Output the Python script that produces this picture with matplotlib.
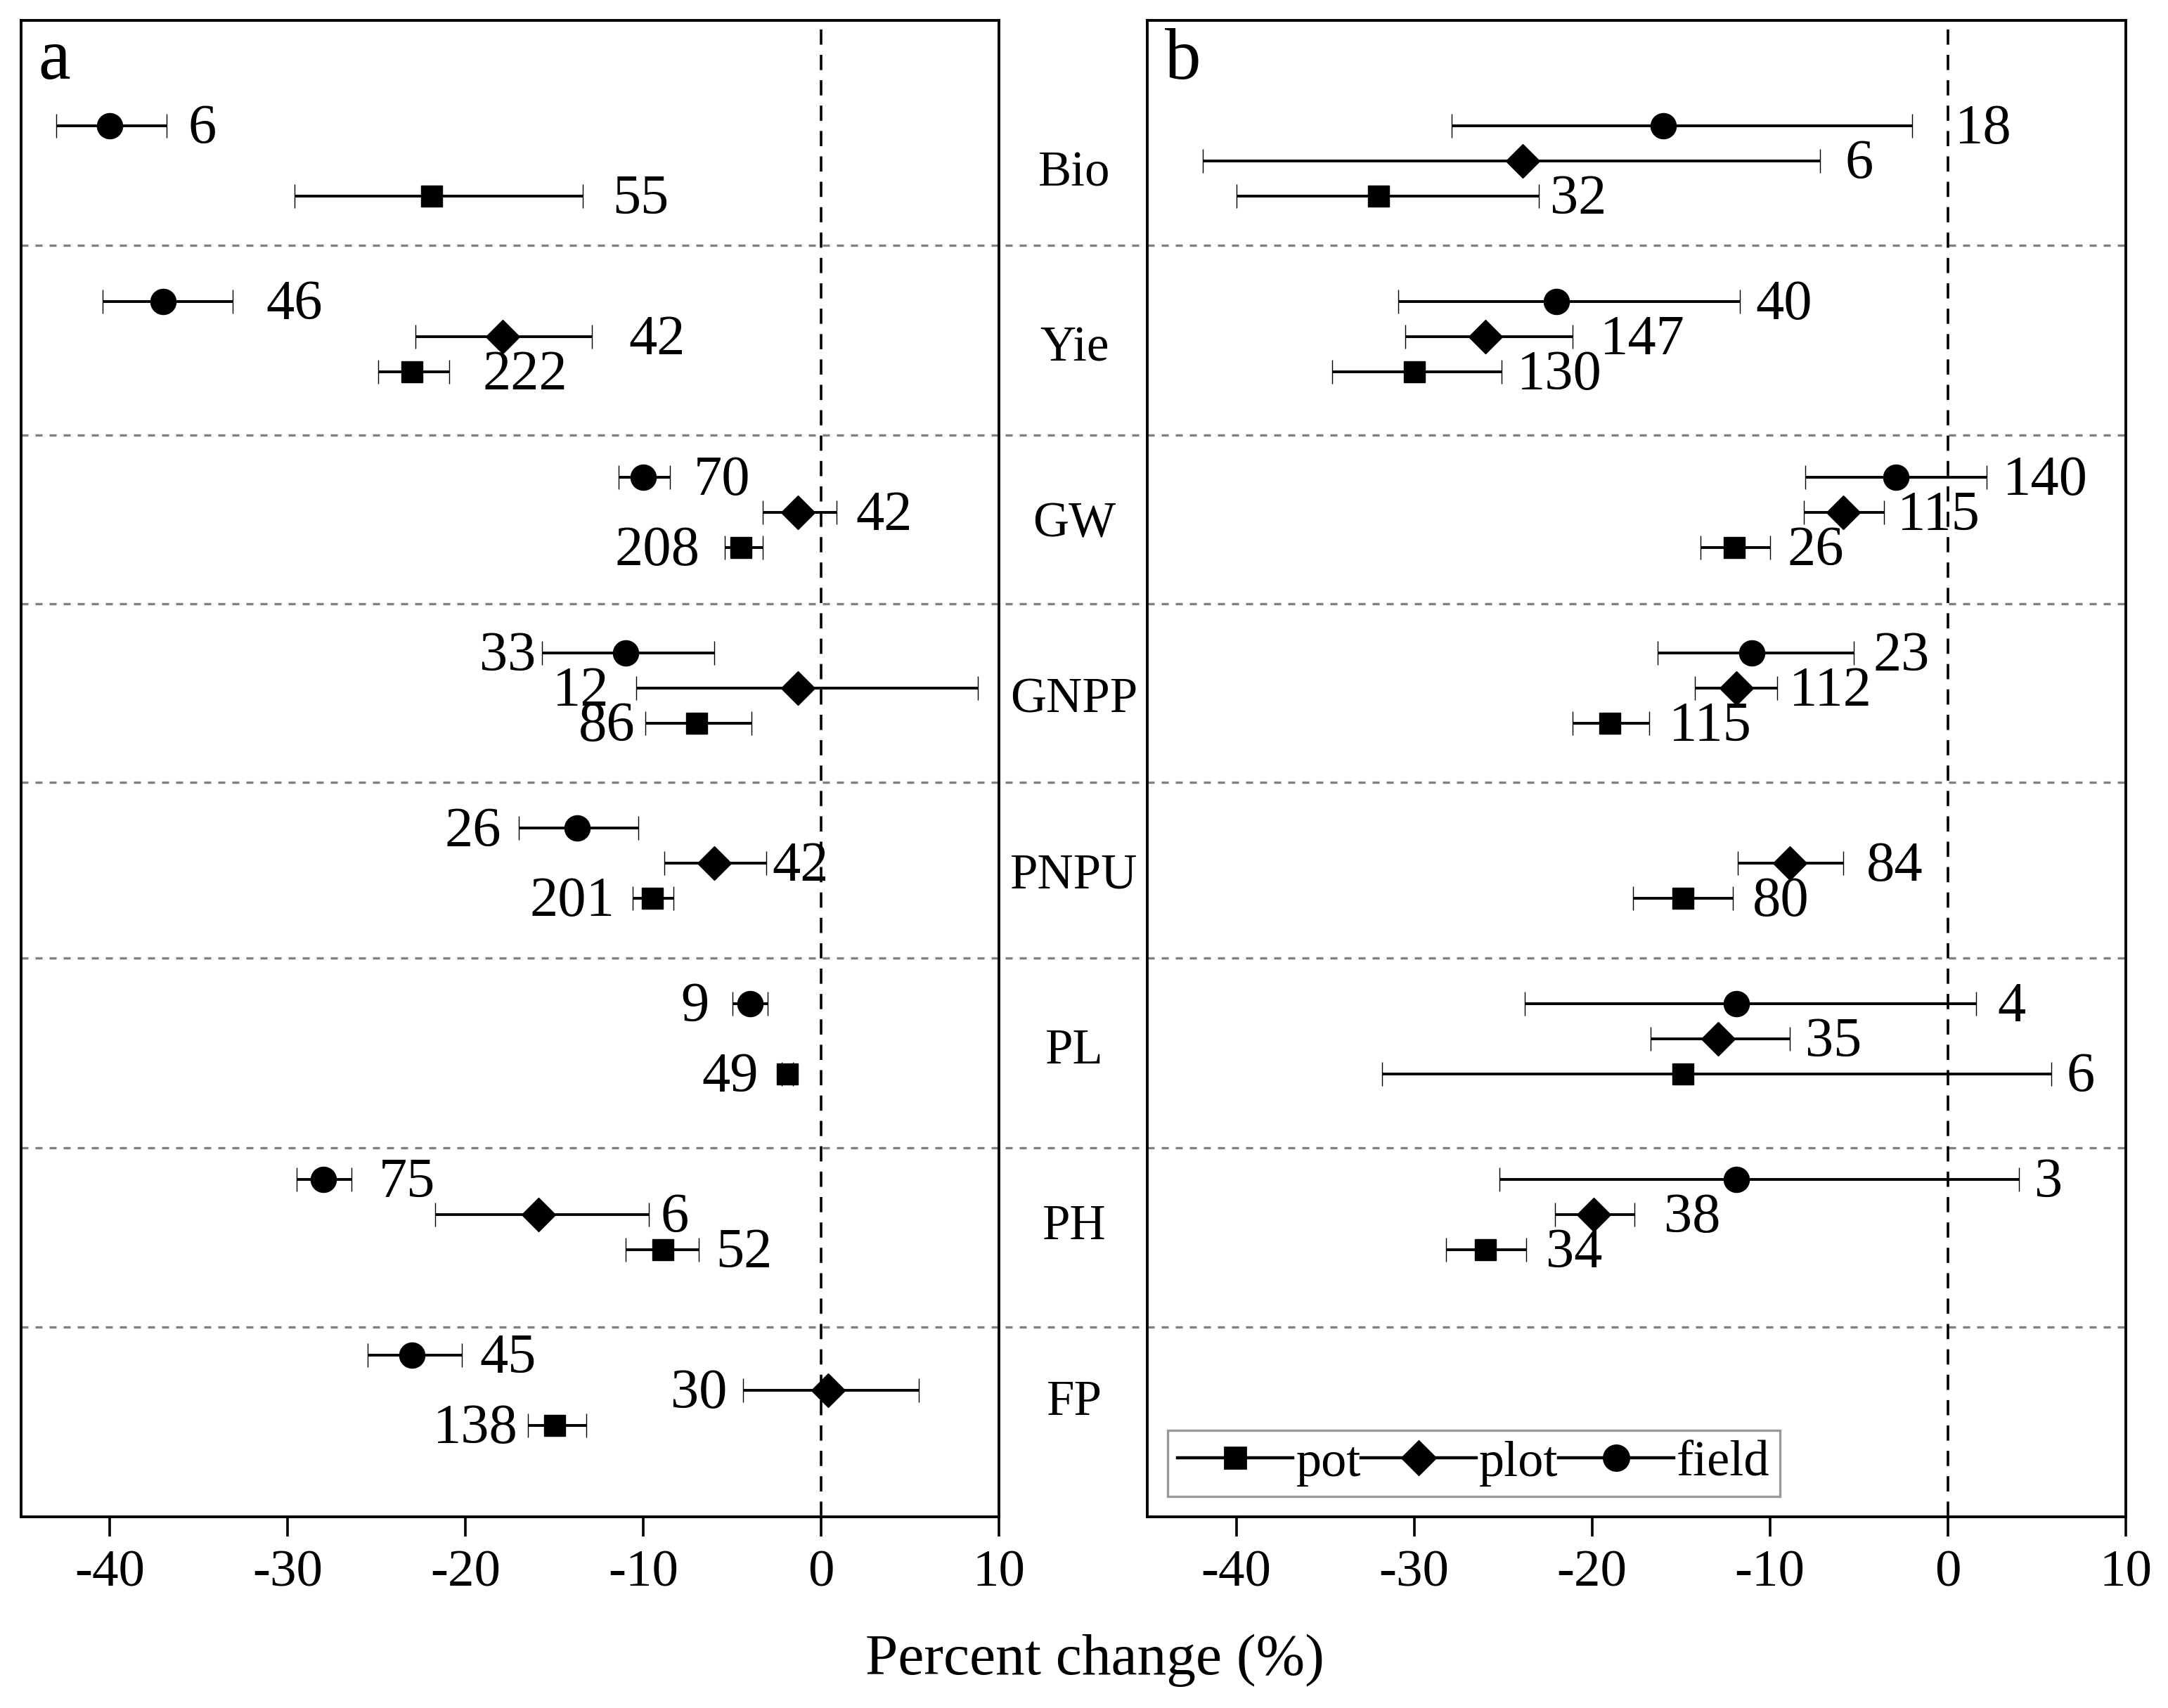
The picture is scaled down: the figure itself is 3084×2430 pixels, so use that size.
import numpy as np
import matplotlib
matplotlib.use("Agg")
import matplotlib.pyplot as plt
from matplotlib.lines import Line2D
from matplotlib.transforms import blended_transform_factory

plt.rcParams['font.family'] = ['Liberation Serif', 'DejaVu Serif']
plt.rcParams['axes.unicode_minus'] = False

# categories (top to bottom)
cats = ["Bio", "Yie", "GW", "GNPP", "PNPU", "PL", "PH", "FP"]
nan = np.nan

# panel a : mean, CI low, CI high, number of observations
a_field_mean = [-40.0, -37.0, -10.0, -11.0, -13.7, -4.0, -28.0, -23.0]
a_field_lo = [-43.0, -40.4, -11.4, -15.7, -17.0, -5.0, -29.5, -25.5]
a_field_hi = [-36.8, -33.1, -8.5, -6.0, -10.3, -3.0, -26.4, -20.2]
a_field_n = [6, 46, 70, 33, 26, 9, 75, 45]

a_plot_mean = [nan, -17.9, -1.3, -1.3, -6.0, nan, -15.9, 0.4]
a_plot_lo = [nan, -22.8, -3.3, -10.4, -8.8, nan, -21.7, -4.4]
a_plot_hi = [nan, -12.9, 0.85, 8.8, -3.1, nan, -9.7, 5.5]
a_plot_n = [0, 42, 42, 12, 42, 0, 6, 30]

a_pot_mean = [-21.9, -23.0, -4.5, -7.0, -9.5, -1.9, -8.9, -15.0]
a_pot_lo = [-29.6, -24.9, -5.4, -9.9, -10.6, -2.2, -11.0, -16.5]
a_pot_hi = [-13.4, -20.9, -3.3, -3.9, -8.3, -1.6, -6.9, -13.2]
a_pot_n = [55, 222, 208, 86, 201, 49, 52, 138]

# panel b
b_field_mean = [-16.0, -22.0, -2.9, -11.0, nan, -11.9, -11.9, nan]
b_field_lo = [-27.9, -30.9, -8.0, -16.3, nan, -23.8, -25.2, nan]
b_field_hi = [-2.0, -11.7, 2.2, -5.3, nan, 1.6, 4.0, nan]
b_field_n = [18, 40, 140, 23, 0, 4, 3, 0]

b_plot_mean = [-23.9, -26.0, -5.9, -11.9, -8.9, -12.9, -19.9, nan]
b_plot_lo = [-41.9, -30.5, -8.1, -14.2, -11.8, -16.7, -22.1, nan]
b_plot_hi = [-7.2, -21.1, -3.6, -9.6, -5.9, -8.9, -17.6, nan]
b_plot_n = [6, 147, 115, 112, 84, 35, 38, 0]

b_pot_mean = [-32.0, -30.0, -12.0, -19.0, -14.9, -14.9, -26.0, nan]
b_pot_lo = [-40.0, -34.6, -13.9, -21.1, -17.7, -31.8, -28.2, nan]
b_pot_hi = [-23.0, -25.1, -10.0, -16.8, -12.1, 5.8, -23.7, nan]
b_pot_n = [32, 130, 26, 115, 80, 6, 34, 0]

# label placement (layout): side of the bar and gap in points
a_sides = {"field": "rrrlllrr", "plot": "rrrlrrrl", "pot": "rrllllrl"}
a_gaps = {"field": [11, 17, 12, 3, 9, 12, 14, 9],
          "plot": [0, 19, 10, 14, 3, 0, 6, 8],
          "pot": [15, 17, 13, 5, 9, 12, 9, 5]}
b_sides = {"field": "rrrrrrrr", "plot": "rrrrrrrr", "pot": "rrrrrrrr"}
b_gaps = {"field": [22, 8, 8, 10, 0, 11, 8, 0],
          "plot": [13, 14, 7, 6, 12, 8, 15, 0],
          "pot": [6, 8, 9, 10, 10, 8, 10, 0]}

offs = {"field": -1, "plot": 0, "pot": 1}
mk = {"field": ("o", 13), "plot": ("D", 12), "pot": ("s", 11)}
centers = np.arange(len(cats)) * 5.0
seps = [2.4, 7.8, 12.6, 17.7, 22.7, 28.1, 33.2]

fig = plt.figure(figsize=(15.42, 12.15), dpi=200)
axa = fig.add_axes([0.0096, 0.112, 0.4512, 0.876])
axb = fig.add_axes([0.5292, 0.112, 0.4513, 0.876])


def draw_panel(ax, series, sides, gaps, letter, extend_sep):
    for s in seps:
        ax.plot([-45, 18.3 if extend_sep else 10], [s, s], color='#808080',
                lw=1.2, dashes=(3, 3), clip_on=False, zorder=1)
    ax.axvline(0, color='k', lw=1.3, dashes=(6, 4), zorder=1)
    for name, (mean, lo, hi, n) in series.items():
        mean = np.array(mean); lo = np.array(lo); hi = np.array(hi)
        y = centers + offs[name]
        ok = ~np.isnan(mean)
        m, ms = mk[name]
        ax.errorbar(mean[ok], y[ok], xerr=[mean[ok] - lo[ok], hi[ok] - mean[ok]],
                    fmt=m, ms=ms, color='k', mfc='k', mec='k', mew=0.5,
                    elinewidth=1.4, capsize=6, capthick=1.4, zorder=3)
        for i in np.where(ok)[0]:
            g = gaps[name][i]
            if sides[name][i] == 'r':
                ax.annotate(str(n[i]), (hi[i], y[i]), xytext=(g, -2),
                            textcoords='offset points', ha='left', va='center',
                            fontsize=29)
            else:
                ax.annotate(str(n[i]), (lo[i], y[i]), xytext=(-g, -2),
                            textcoords='offset points', ha='right', va='center',
                            fontsize=29)
    ax.set_xlim(-45, 10)
    ax.set_ylim(38.6, -4.0)
    ax.set_xticks([-40, -30, -20, -10, 0, 10])
    ax.set_yticks([])
    ax.tick_params(axis='x', direction='out', length=10, width=1.3,
                   labelsize=27, pad=7)
    for sp in ax.spines.values():
        sp.set_linewidth(1.4)
    ax.text(0.018, 0.995, letter, transform=ax.transAxes, ha='left', va='top',
            fontsize=37)


draw_panel(axa, {"field": (a_field_mean, a_field_lo, a_field_hi, a_field_n),
                 "plot": (a_plot_mean, a_plot_lo, a_plot_hi, a_plot_n),
                 "pot": (a_pot_mean, a_pot_lo, a_pot_hi, a_pot_n)},
           a_sides, a_gaps, "a", True)
draw_panel(axb, {"field": (b_field_mean, b_field_lo, b_field_hi, b_field_n),
                 "plot": (b_plot_mean, b_plot_lo, b_plot_hi, b_plot_n),
                 "pot": (b_pot_mean, b_pot_lo, b_pot_hi, b_pot_n)},
           b_sides, b_gaps, "b", False)

# category names between the panels
tr = blended_transform_factory(fig.transFigure, axa.transData)
for c, yc in zip(cats, centers):
    axa.text(0.4955, yc + 0.35, c, transform=tr, ha='center', va='center',
             fontsize=25.5, clip_on=False)

handles = [Line2D([], [], color='k', lw=1.6, marker='s', ms=11),
           Line2D([], [], color='k', lw=1.6, marker='D', ms=12),
           Line2D([], [], color='k', lw=1.6, marker='o', ms=13)]
leg = axb.legend(handles, ["pot", "plot", "field"], loc='lower left', ncol=3,
                 fontsize=26, frameon=True, fancybox=False, edgecolor='#808080',
                 handlelength=2.27, handletextpad=0.06, columnspacing=0.0,
                 borderaxespad=0.4, borderpad=0.2, numpoints=1)
leg.get_frame().set_linewidth(1.2)

fig.text(0.505, 0.028, "Percent change (%)", ha='center', va='center', fontsize=30)

fig.savefig("out.png", dpi=200)
